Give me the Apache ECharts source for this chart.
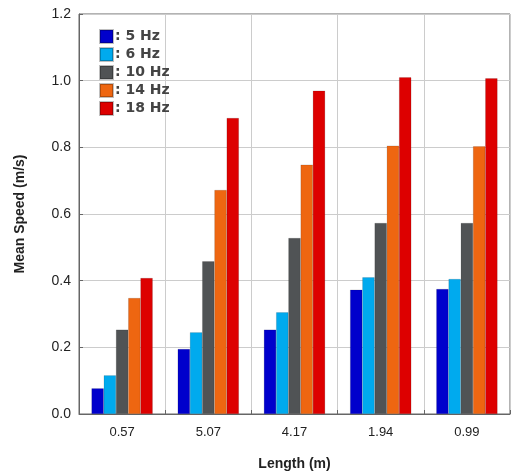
<!DOCTYPE html>
<html>
<head>
<meta charset="utf-8">
<script src="https://cdn.jsdelivr.net/npm/echarts@6/dist/echarts.min.js"></script>
<style>
html, body { margin: 0; padding: 0; background: #fff; }
#chart { width: 512px; height: 476px; }
</style>
</head>
<body>
<div id="chart"></div>
<script>
// 长度类别
const lengths = ['0.57', '5.07', '4.17', '1.94', '0.99']
const hz5 = [0.077, 0.195, 0.253, 0.373, 0.375]
const hz6 = [0.116, 0.245, 0.305, 0.41, 0.405]
const hz10 = [0.253, 0.458, 0.528, 0.573, 0.573]
const hz14 = [0.348, 0.672, 0.748, 0.805, 0.803]
const hz18 = [0.408, 0.888, 0.97, 1.01, 1.007]
const yTicks = [0, 0.2, 0.4, 0.6, 0.8, 1.0, 1.2]

const chart = echarts.init(document.getElementById('chart'))

const seriesList = [
    {name: '5 Hz', data: hz5, color: '#0000cc'},
    {name: '6 Hz', data: hz6, color: '#00aaee'},
    {name: '10 Hz', data: hz10, color: '#505355'},
    {name: '14 Hz', data: hz14, color: '#ee6611'},
    {name: '18 Hz', data: hz18, color: '#dd0000'}
]

const option = {
    animation: false,
    backgroundColor: '#fff',
    grid: {left: 79, top: 14, right: 2, bottom: 59, show: true, borderColor: '#666', borderWidth: 1},
    legend: {
        left: 94,
        top: 24,
        orient: 'vertical',
        itemWidth: 13,
        itemHeight: 13,
        itemGap: 3,
        icon: 'rect',
        formatter: ': {name}',
        textStyle: {fontFamily: 'DejaVu Sans', fontWeight: 'bold', fontSize: 14, color: '#444', padding: [0, 0, 0, -3]},
        data: seriesList.map(s => s.name)
    },
    xAxis: {
        type: 'category',
        data: lengths,
        name: 'Length (m)',
        nameLocation: 'middle',
        nameGap: 43,
        nameTextStyle: {fontFamily: 'Liberation Sans', fontWeight: 'bold', fontSize: 14, color: '#222'},
        axisLine: {lineStyle: {color: '#666'}},
        axisTick: {show: true, inside: true, length: 4, lineStyle: {color: '#666'}},
        axisLabel: {fontFamily: 'Liberation Sans', fontSize: 13, color: '#222', margin: 12},
        splitLine: {show: true, lineStyle: {color: '#ccc'}}
    },
    yAxis: {
        type: 'value',
        min: 0,
        max: 1.2,
        interval: 0.2,
        name: 'Mean Speed (m/s)',
        nameLocation: 'middle',
        nameGap: 52,
        nameTextStyle: {fontFamily: 'Liberation Sans', fontWeight: 'bold', fontSize: 14, color: '#222'},
        axisLine: {show: true, lineStyle: {color: '#666'}},
        axisTick: {show: true, inside: true, length: 4, lineStyle: {color: '#666'}},
        axisLabel: {
            fontFamily: 'Liberation Sans', fontSize: 14, color: '#222', margin: 8,
            formatter: v => yTicks.includes(Math.round(v * 10) / 10) ? v.toFixed(1) : ''
        },
        splitLine: {show: true, lineStyle: {color: '#ccc'}}
    },
    series: seriesList.map(s => ({
        name: s.name,
        type: 'bar',
        data: s.data,
        barGap: '0%',
        barCategoryGap: '29%',
        itemStyle: {color: s.color, borderColor: 'rgba(0,0,0,0.25)', borderWidth: 0.5}
    }))
}
chart.setOption(option)
</script>
</body>
</html>
